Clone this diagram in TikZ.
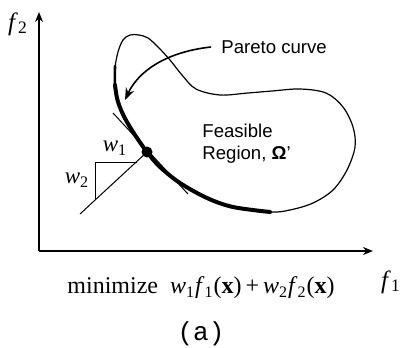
\documentclass[tikz,border=0pt]{standalone}
\usepackage{fontspec}
\setmainfont{Liberation Serif}
\newfontfamily\notefont{Liberation Sans}
\newfontfamily\tagfont{Liberation Mono}
\usetikzlibrary{arrows.meta,positioning}

\begin{document}
\begin{tikzpicture}[
  x=0.5pt, y=-0.5pt,
  axis/.style={-{Stealth[length=5pt,width=4pt]}, line width=0.8pt},
  region/.style={line width=0.6pt},
  front/.style={line width=2pt, line cap=round},
  guide/.style={line width=0.5pt},
  pointer/.style={-{Stealth[length=6pt,width=4.5pt]}, line width=0.8pt},
  lbl/.style={font=\fontsize{11.5}{13}\selectfont, inner sep=0pt},
  note/.style={font=\notefont\fontsize{9.3}{11}\selectfont, inner sep=0pt, align=left}
]
\useasboundingbox (0,0) rectangle (402,348);

% axes
\coordinate (origin) at (39,251);
\coordinate (ytip) at (39,12);
\coordinate (xtip) at (373,251);
\draw[axis] (origin) -- (ytip);
\draw[axis] (origin) -- (xtip);
\node[lbl, font=\fontsize{12.5}{14}\selectfont] (f2) at (18,24) {\textit{f}\textsubscript{2}};
\node[lbl, font=\fontsize{12.5}{14}\selectfont] (f1) at (391,282) {\textit{f}\textsubscript{1}};

% feasible region and pareto front
\draw[region] plot[smooth cycle, tension=0.55] coordinates {
  (115,68) (118,52) (123,40) (130,35) (139,35) (148,38) (158,47) (170,60)
  (182,75) (196,89) (220,95) (248,93) (272,91) (300,89) (326,93)
  (343,107) (353,127) (355,147) (347,170) (333,190) (313,203) (290,210)
  (270,212) (233,207) (207,198) (180,183) (160,167) (147,152) (135,135)
  (127,122) (121,110) (117,98) (115,85)};
\draw[front, line width=1.3pt] plot[smooth, tension=0.55] coordinates {
  (115,66) (115,85) (117,98)};
\draw[front] plot[smooth, tension=0.55] coordinates {
  (115,85) (117,98) (121,110) (127,122) (135,135) (147,152) (160,167)
  (180,183) (207,198) (233,207) (270,212)};

% optimum and weights
\node[circle, fill, inner sep=0pt, minimum size=5.5pt] (opt) at (147,152) {};
\coordinate (tanA) at (113,113);
\coordinate (tanB) at (188,194);
\draw[guide] (tanA) -- (tanB);
\coordinate (wlow) at (80,214);
\coordinate (corner) at (95,162);
\coordinate (wx) at (137,162);
\coordinate (wy) at (95,200);
\draw[guide] (wlow) -- (opt.center);
\draw[guide] (wx) -- (corner) -- (wy);
\node[lbl] (w1) at (115,148) {\textit{w}\textsubscript{1}};
\node[lbl] (w2) at (77,180) {\textit{w}\textsubscript{2}};

% labels
\node[note, anchor=west] (pareto) at (221,47) {Pareto curve};
\draw[pointer] ([xshift=-5pt]pareto.west) .. controls (165,52) and (138,72) .. (125,100);
\node[note, anchor=west] (feasible) at (202,144) {Feasible\\Region, \textbf{Ω}’};

\node[lbl, font=\fontsize{12}{14}\selectfont] (objective) at (201,288)
  {minimize\ \ \textit{w}\textsubscript{1}\textit{f}\textsubscript{1}(\textbf{x})\,+\,\textit{w}\textsubscript{2}\textit{f}\textsubscript{2}(\textbf{x})};
\node[font=\tagfont\fontsize{13}{15}\selectfont, inner sep=0pt] (tag) at (201,334) {(a)};
\end{tikzpicture}
\end{document}
